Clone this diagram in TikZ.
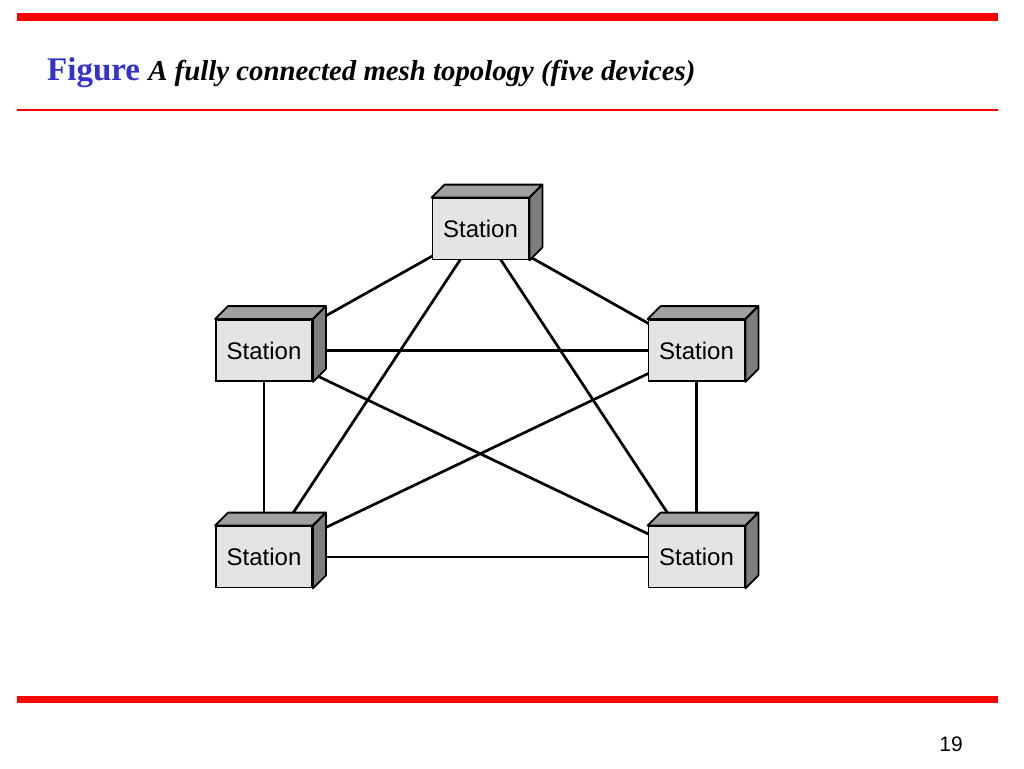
\documentclass[tikz,border=0pt]{standalone}
\usepackage{fontspec}
\setmainfont{Liberation Serif}
\newfontfamily\stfont{Liberation Sans}
\usetikzlibrary{calc}
\definecolor{barred}{HTML}{FF0000}
\definecolor{figblue}{HTML}{3333CC}
\definecolor{frontgray}{HTML}{E4E4E4}
\definecolor{topgray}{HTML}{A0A0A0}
\definecolor{sidegray}{HTML}{7E7E7E}
\pgfdeclarelayer{background}
\pgfsetlayers{background,main}
\begin{document}
\begin{tikzpicture}[x=1pt,y=-1pt,
  station/.style={draw=black, line width=1.8pt, fill=frontgray, rectangle,
    minimum width=96pt, minimum height=61pt, inner sep=0pt,
    font=\stfont\fontsize{24}{28}\selectfont},
  link/.style={line width=2.7pt, black},
  face/.style={draw=black, line width=1.8pt, line join=round}]
\useasboundingbox (0,0) rectangle (1024,768);
% bars
\fill[barred] (17,13) rectangle (998,21);
\fill[barred] (17,109) rectangle (998,111);
\fill[barred] (17,696) rectangle (998,703);
% title
\node[anchor=base west, inner sep=0pt] (title) at (47,81)
  {\fontsize{33}{38}\selectfont\bfseries\color{figblue}Figure\color{black}\ \fontsize{28.8}{33}\selectfont\bfseries\itshape A fully connected mesh topology (five devices)};
\node[anchor=base, inner sep=0pt, font=\stfont\fontsize{21}{24}\selectfont] (pnum) at (951,751) {19};
% stations
\node[station] (t)  at (480.5,229) {Station};
\node[station] (ml) at (264,350.5) {Station};
\node[station] (mr) at (696.5,350.5) {Station};
\node[station] (bl) at (264,557) {Station};
\node[station] (br) at (696.5,557) {Station};
\foreach \n in {t,ml,mr,bl,br}{
  \filldraw[face, fill=topgray] (\n.north west) -- ++(13,-13) -- ($(\n.north east)+(13,-13)$) -- (\n.north east) -- cycle;
  \filldraw[face, fill=sidegray] (\n.north east) -- ++(13,-13) -- ($(\n.south east)+(13,-13)$) -- (\n.south east) -- cycle;
}
% links
\begin{pgfonlayer}{background}
\foreach \a/\b in {t/ml,t/mr,t/bl,t/br,ml/mr,ml/bl,ml/br,mr/bl,mr/br,bl/br}{
  \draw[link] (\a.center) -- (\b.center);
}
\end{pgfonlayer}
\end{tikzpicture}
\end{document}
